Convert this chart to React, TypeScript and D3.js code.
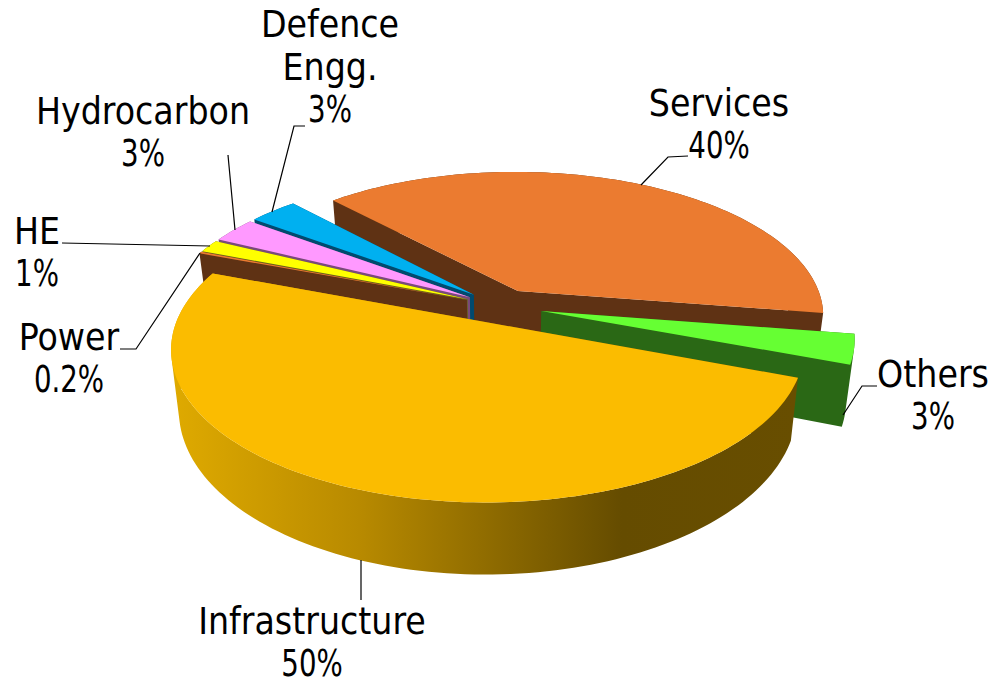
import React from 'react'
import * as d3 from 'd3'

// clockwise from the top left edge of Services; slice sizes,
// the printed labels are rounded
const categories = ['Services', 'Others', 'Infrastructure', 'Power', 'HE', 'Hydrocarbon', 'Defence Engg.']
const percents = [39.4, 3.2, 50, 0.2, 1.4, 2.8, 3]
const percentLabels = ['40%', '3%', '50%', '0.2%', '1%', '3%', '3%']

const topColors = ['#eb7b30', '#66ff33', '#fbbc00', '#eb7b30', '#ffff00', '#ff99ff', '#00b0f0']
const wallColors = ['#5f3214', '#2a6815', 'url(#rimGradient)', '#5f3214', '#66661a', '#7a4a7a', '#014a6e']
const explodes = [0.12, 0.135, 0.12, 0.12, 0.12, 0.12, 0.12]

// paint order, back to front
const drawOrder = ['Services', 'Defence Engg.', 'Hydrocarbon', 'HE', 'Power', 'Others', 'Infrastructure']

const labelLines: Record<string, string[]> = {
  Services: ['Services'],
  Others: ['Others'],
  Infrastructure: ['Infrastructure'],
  Power: ['Power'],
  HE: ['HE'],
  Hydrocarbon: ['Hydrocarbon'],
  'Defence Engg.': ['Defence', 'Engg.'],
}
const labelPos: Record<string, [number, number]> = {
  Services: [719, 116],
  Others: [933, 387],
  Infrastructure: [312, 634],
  Power: [69, 350],
  HE: [37, 244],
  Hydrocarbon: [143, 124],
  'Defence Engg.': [330, 37],
}
const leaders: Record<string, [number, number][]> = {
  Services: [[688, 156], [668, 157], [641, 185]],
  Others: [[877, 386], [862, 386], [843, 415]],
  Infrastructure: [[361, 600], [361, 560]],
  Power: [[120, 349], [136, 349], [200, 253]],
  HE: [[62, 243], [210, 246]],
  Hydrocarbon: [[228, 155], [235, 230]],
  'Defence Engg.': [[305, 126], [294, 126], [272, 212]],
}

const width = 994
const height = 684
const lineHeight = 43
const percentSqueeze = 0.83 // the percent signs in the original are much narrower

// perspective of the pie plane
const originX = 501
const originY = 306
const scaleU = 306
const scaleV = 143.7
const persp = 0.1675
const firstAngle = (317 * Math.PI) / 180

type Pt = [number, number]

const project = (u: number, v: number): Pt => {
  const w = 1 - persp * v
  return [originX + (scaleU * u) / w, originY + (scaleV * v) / w]
}

// same point on the underside of the slab
const lower = ([x, y]: Pt): Pt => [500 + (x - 500) * 0.976, y + 63 + 0.072 * (y - 377)]

const line = d3.line<Pt>()
const closed = (pts: Pt[]) => (line(pts) as string) + 'Z'

// side face between two top points, always wound the same way so one path can hold them all
const face = (a: Pt, b: Pt) => {
  const q: Pt[] = [a, b, lower(b), lower(a)]
  return closed(d3.polygonArea(q) < 0 ? q.reverse() : q)
}

const arcs = d3
  .pie<number>()
  .sort(null)
  .startAngle(firstAngle)
  .endAngle(firstAngle + Math.PI * 2)(percents)

const slices = categories.map((name, i) => {
  const a = arcs[i]
  const mid = (a.startAngle + a.endAngle) / 2
  const du = explodes[i] * Math.sin(mid)
  const dv = -explodes[i] * Math.cos(mid)
  const steps = Math.max(2, Math.ceil((a.endAngle - a.startAngle) * 40))
  const rim: Pt[] = d3.range(steps + 1).map(s => {
    const t = a.startAngle + ((a.endAngle - a.startAngle) * s) / steps
    return project(du + Math.sin(t), dv - Math.cos(t))
  })
  const apex = project(du, dv)
  const walls = [
    face(apex, rim[0]),
    face(apex, rim[rim.length - 1]),
    ...d3.pairs(rim).map(([p, q]) => face(p, q)),
  ].join('')
  return { name, i, apex, rim, walls }
})

const App: React.FC = () => {
  const ordered = drawOrder.map(n => slices.find(s => s.name === n)!)

  return (
    <svg
      width={width}
      height={height}
      viewBox={`0 0 ${width} ${height}`}
      style={{ position: 'absolute', left: 0, top: 0 }}
      fontFamily="'DejaVu Sans Condensed', 'DejaVu Sans'"
      fontSize={37}
    >
      <defs>
        <linearGradient id="rimGradient" gradientUnits="userSpaceOnUse" x1={172} x2={797} y1={0} y2={0}>
          <stop offset="0" stopColor="#dfaa00" />
          <stop offset="0.3" stopColor="#b88a00" />
          <stop offset="0.72" stopColor="#654c00" />
          <stop offset="1" stopColor="#684e00" />
        </linearGradient>
      </defs>

      {ordered.map(s => (
        <g key={s.name}>
          <path d={s.walls} fill={wallColors[s.i]} />
          <path d={closed([s.apex, ...s.rim])} fill={topColors[s.i]} />
        </g>
      ))}

      {categories.map(name => (
        <polyline
          key={name}
          points={leaders[name].join(' ')}
          fill="none"
          stroke="#000"
          strokeWidth={1.2}
        />
      ))}

      {categories.map((name, i) => {
        const [x, y] = labelPos[name]
        const lines = labelLines[name]
        return (
          <g key={name} textAnchor="middle" fill="#000">
            {lines.map((l, j) => (
              <text key={j} x={x} y={y + j * lineHeight}>
                {l}
              </text>
            ))}
            <text transform={`translate(${x},${y + lines.length * lineHeight - 1}) scale(${percentSqueeze},1)`}>
              {percentLabels[i]}
            </text>
          </g>
        )
      })}
    </svg>
  )
}

export default App
